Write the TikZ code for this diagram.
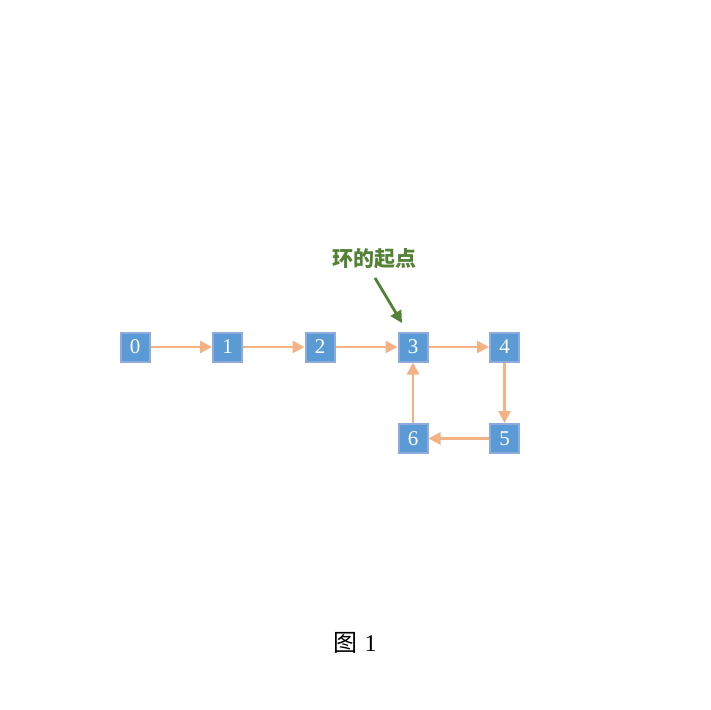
\documentclass[tikz,border=0pt]{standalone}
\usepackage{fontspec}
\newfontfamily\cjk{Noto Sans CJK SC}
\newfontfamily\numfont{Liberation Serif}
\usetikzlibrary{arrows.meta,positioning}

\definecolor{boxblue}{HTML}{5B9BD5}
\definecolor{boxline}{HTML}{8FAADC}
\definecolor{linkorange}{HTML}{F4B183}
\definecolor{markgreen}{HTML}{548235}

\tikzset{
    listnode/.style={draw=boxline, fill=boxblue, line width=2pt, minimum size=29pt,
        inner sep=0pt, text=white, font=\numfont\fontsize{21}{21}\selectfont},
    link/.style={draw=linkorange, line width=2.6pt, -{Triangle[length=12pt,width=12pt]}},
    pointer/.style={draw=markgreen, line width=2.8pt, -{Triangle[length=12pt,width=12pt]}}
}

\begin{document}
\begin{tikzpicture}[x=1pt,y=-1pt]
    \useasboundingbox (0,0) rectangle (711,709);

    % list nodes
    \foreach \i/\x in {0/135,1/227.5,2/320,3/413,4/504.5} {
        \node[listnode] (n\i) at (\x,347) {\i};
    }
    \node[listnode] (n5) at (504.5,438.5) {5};
    \node[listnode] (n6) at (413,438.5) {6};

    % links
    \draw[link] (n0) -- (n1);
    \draw[link] (n1) -- (n2);
    \draw[link] (n2) -- (n3);
    \draw[link] (n3) -- (n4);
    \draw[link] (n4) -- (n5);
    \draw[link] (n5) -- (n6);
    \draw[link] (n6) -- (n3);

    % start of the cycle
    \node[text=markgreen, font=\cjk\bfseries\fontsize{21}{21}\selectfont] (start) at (374,259) {环的起点};
    \coordinate (tip) at (402,323);
    \draw[pointer] (375,278) -- (tip);

    % caption
    \node[font=\fontsize{24}{24}\selectfont] (cap) at (355,643) {{\cjk 图} {\numfont 1}};
\end{tikzpicture}
\end{document}
